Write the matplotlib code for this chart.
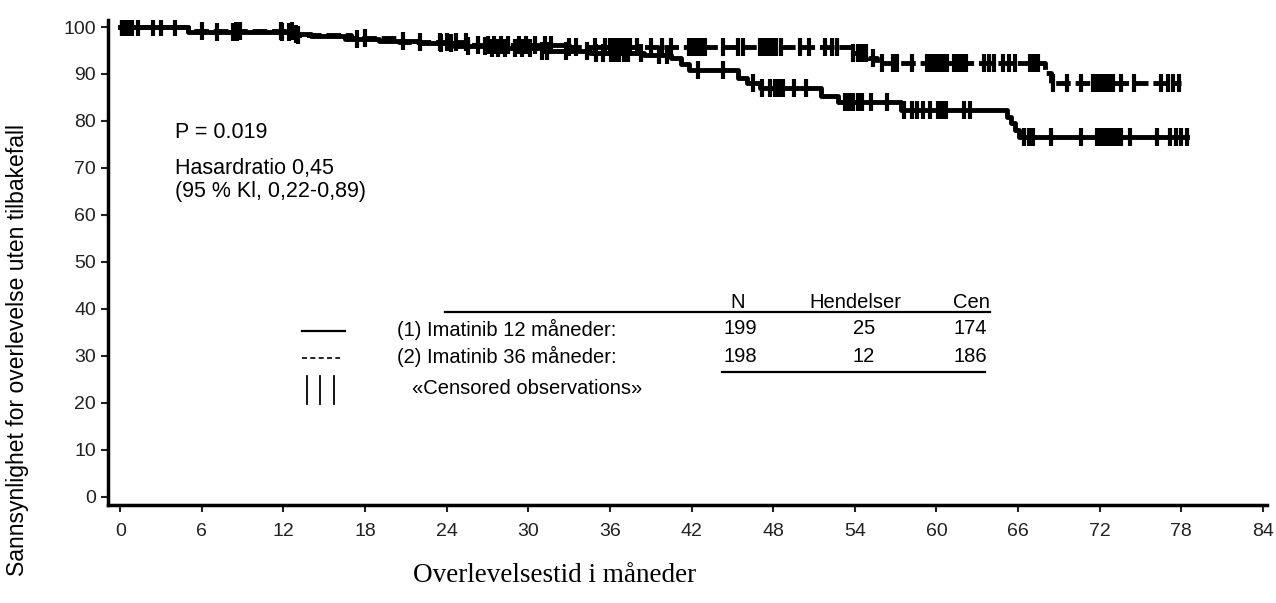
import matplotlib
matplotlib.use('Agg')
import numpy as np
import matplotlib.pyplot as plt
from matplotlib.lines import Line2D

plt.rcParams['font.family'] = ['Liberation Sans', 'DejaVu Sans']

# --- KM step data (months, % event-free) ---
t_12 = [0, 5.0, 12.5, 14.0, 16.5, 19.0, 22.0, 24.5, 27.0, 31.0, 34.5, 38.5, 40.5, 41.2, 41.8,
        45.4, 46.1, 47.0, 51.5, 52.8, 57.4, 65.2, 65.5, 65.8, 66.1]
s_12 = [100, 99.0, 98.5, 98.0, 97.5, 97.0, 96.5, 96.0, 95.5, 95.0, 94.5, 94.0, 93.4, 92.2, 90.8,
        89.1, 88.0, 87.0, 85.3, 84.0, 82.3, 80.9, 79.5, 78.0, 76.6]
t_36 = [0, 5.0, 13.0, 17.0, 20.5, 26.0, 33.0, 53.8, 55.0, 55.6, 68.0, 68.4]
s_36 = [100, 99.2, 98.4, 97.6, 96.8, 96.2, 95.7, 94.5, 93.4, 92.3, 90.3, 88.0]
end_12, end_36 = 78.4, 78.0

# censored observation times
cens_12 = [0.1, 0.2, 0.3, 0.4, 0.5, 0.6, 0.7, 0.8, 1.3, 2.4, 4.0, 7.1, 8.3, 8.6, 11.9, 12.4, 12.9,
           17.4, 20.8, 23.6, 24.3, 25.6, 26.8, 27.3, 27.8, 28.3, 29.0, 29.5, 30.1, 31.0, 31.4, 32.8,
           34.3, 35.0, 35.5, 36.1, 36.4, 36.7, 37.0, 37.3, 38.3, 39.6, 40.2, 42.5, 44.3, 46.5, 47.2,
           47.8, 48.1, 48.4, 48.7, 49.5, 50.4, 53.3, 53.6, 53.9, 54.2, 54.5, 55.2, 56.4, 57.6, 58.2,
           58.6, 59.0, 59.5, 60.1, 60.4, 60.7, 62.0, 62.5, 66.4, 66.8, 67.1, 68.4, 70.6, 71.8, 72.1,
           72.4, 72.7, 73.0, 73.3, 73.6, 74.2, 76.2, 77.2, 77.6, 78.0, 78.4]
cens_36 = [0.1, 0.3, 0.5, 0.7, 0.9, 3.0, 6.0, 8.5, 8.8, 11.8, 12.6, 13.1, 18.0, 22.0, 23.5, 24.0,
           24.7, 25.4, 26.3, 27.0, 27.5, 28.0, 28.5, 29.3, 29.8, 30.5, 31.2, 31.7, 33.0, 33.5, 34.9,
           35.6, 36.0, 36.3, 36.6, 36.9, 37.2, 37.5, 38.0, 39.0, 39.8, 40.5, 41.8, 42.1, 42.4, 42.7,
           43.0, 44.3, 45.4, 45.8, 47.0, 47.3, 47.6, 47.9, 48.2, 48.6, 50.0, 50.6, 51.8, 52.3, 52.7,
           53.9, 54.2, 54.5, 54.8, 55.3, 56.0, 56.8, 57.1, 58.2, 59.3, 59.6, 59.9, 60.2, 60.5, 60.8,
           61.3, 61.6, 61.9, 62.2, 63.5, 63.9, 64.2, 64.9, 65.3, 65.8, 66.9, 67.2, 67.5, 68.6, 69.6,
           70.6, 71.5, 71.8, 72.1, 72.4, 72.7, 73.0, 73.6, 74.5, 76.5, 77.0, 77.4, 77.8]

x_ticks = list(range(0, 85, 6))
y_ticks = list(range(0, 101, 10))

def surv_at(t, s, c):
    idx = np.searchsorted(np.array(t), np.array(c), side='right') - 1
    return np.array(s)[idx]

W, H = 1276, 603
fig = plt.figure(figsize=(W / 100, H / 100), dpi=100)
ax = fig.add_axes([108 / W, 1 - 505 / H, 1159 / W, 485 / H])

lw = 3.5
ax.step(t_12 + [end_12], s_12 + [s_12[-1]], where='post', color='black', lw=lw)
ax.step(t_36 + [end_36], s_36 + [s_36[-1]], where='post', color='black', lw=lw,
        linestyle=(0, (3, 1)))
ax.plot(cens_12, surv_at(t_12, s_12, cens_12), '|', color='black', ms=13, mew=3)
ax.plot(cens_36, surv_at(t_36, s_36, cens_36), '|', color='black', ms=13, mew=3)

ax.set_xlim(-0.9, 84.3)
ax.set_ylim(-1.8, 101.5)
ax.set_xticks(x_ticks)
ax.set_yticks(y_ticks)
ax.tick_params(labelsize=14, length=5, width=1.5, direction='out', colors='#222222')
ax.tick_params(axis='x', pad=8)
for side in ['top', 'right']:
    ax.spines[side].set_visible(False)
for side in ['left', 'bottom']:
    ax.spines[side].set_linewidth(2.5)

fig.text(18 / W, 1 - 350 / H, 'Sannsynlighet for overlevelse uten tilbakefall', rotation=90,
         ha='center', va='center', fontsize=16.5)
fig.text(555 / W, 1 - 576 / H, 'Overlevelsestid i måneder', ha='center', va='center',
         fontsize=19.5, family='Liberation Serif')

# statistics
fig.text(175 / W, 1 - 133 / H, 'P = 0.019', ha='left', va='center', fontsize=15.5)
fig.text(175 / W, 1 - 168 / H, 'Hasardratio 0,45', ha='left', va='center', fontsize=15.5)
fig.text(175 / W, 1 - 191 / H, '(95 % Kl, 0,22-0,89)', ha='left', va='center', fontsize=15.5)

# legend table
def hline(x0, x1, y, **kw):
    fig.add_artist(Line2D([x0 / W, x1 / W], [1 - y / H, 1 - y / H], color='black', **kw))

fs = 14.5
hline(445, 990, 312, lw=1.6)
hline(722, 985, 372, lw=1.6)
fig.text(738 / W, 1 - 302 / H, 'N', ha='center', va='center', fontsize=fs)
fig.text(855 / W, 1 - 302 / H, 'Hendelser', ha='center', va='center', fontsize=fs)
fig.text(990 / W, 1 - 302 / H, 'Cen', ha='right', va='center', fontsize=fs)

rows = [('(1) Imatinib 12 måneder:', '199', '25', '174', '-'),
        ('(2) Imatinib 36 måneder:', '198', '12', '186', '--')]
for i, (lab, n, ev, cen, ls) in enumerate(rows):
    y = 329 + i * 27
    if ls == '-':
        hline(302, 345, y + 2, lw=1.6)
    else:
        hline(302, 340, y + 2, lw=1.2, linestyle=(0, (3, 2)))
    fig.text(397 / W, 1 - y / H, lab, ha='left', va='center', fontsize=fs)
    fig.text(740 / W, 1 - y / H, n, ha='center', va='center', fontsize=fs)
    fig.text(875 / W, 1 - y / H, ev, ha='right', va='center', fontsize=fs)
    fig.text(987 / W, 1 - y / H, cen, ha='right', va='center', fontsize=fs)

for xb in [307, 320, 334]:
    fig.add_artist(Line2D([xb / W, xb / W], [1 - 376 / H, 1 - 404 / H], color='black', lw=1.3))
fig.text(412 / W, 1 - 389 / H, '«Censored observations»', ha='left', va='center', fontsize=fs)

fig.savefig('out.png', dpi=100)
